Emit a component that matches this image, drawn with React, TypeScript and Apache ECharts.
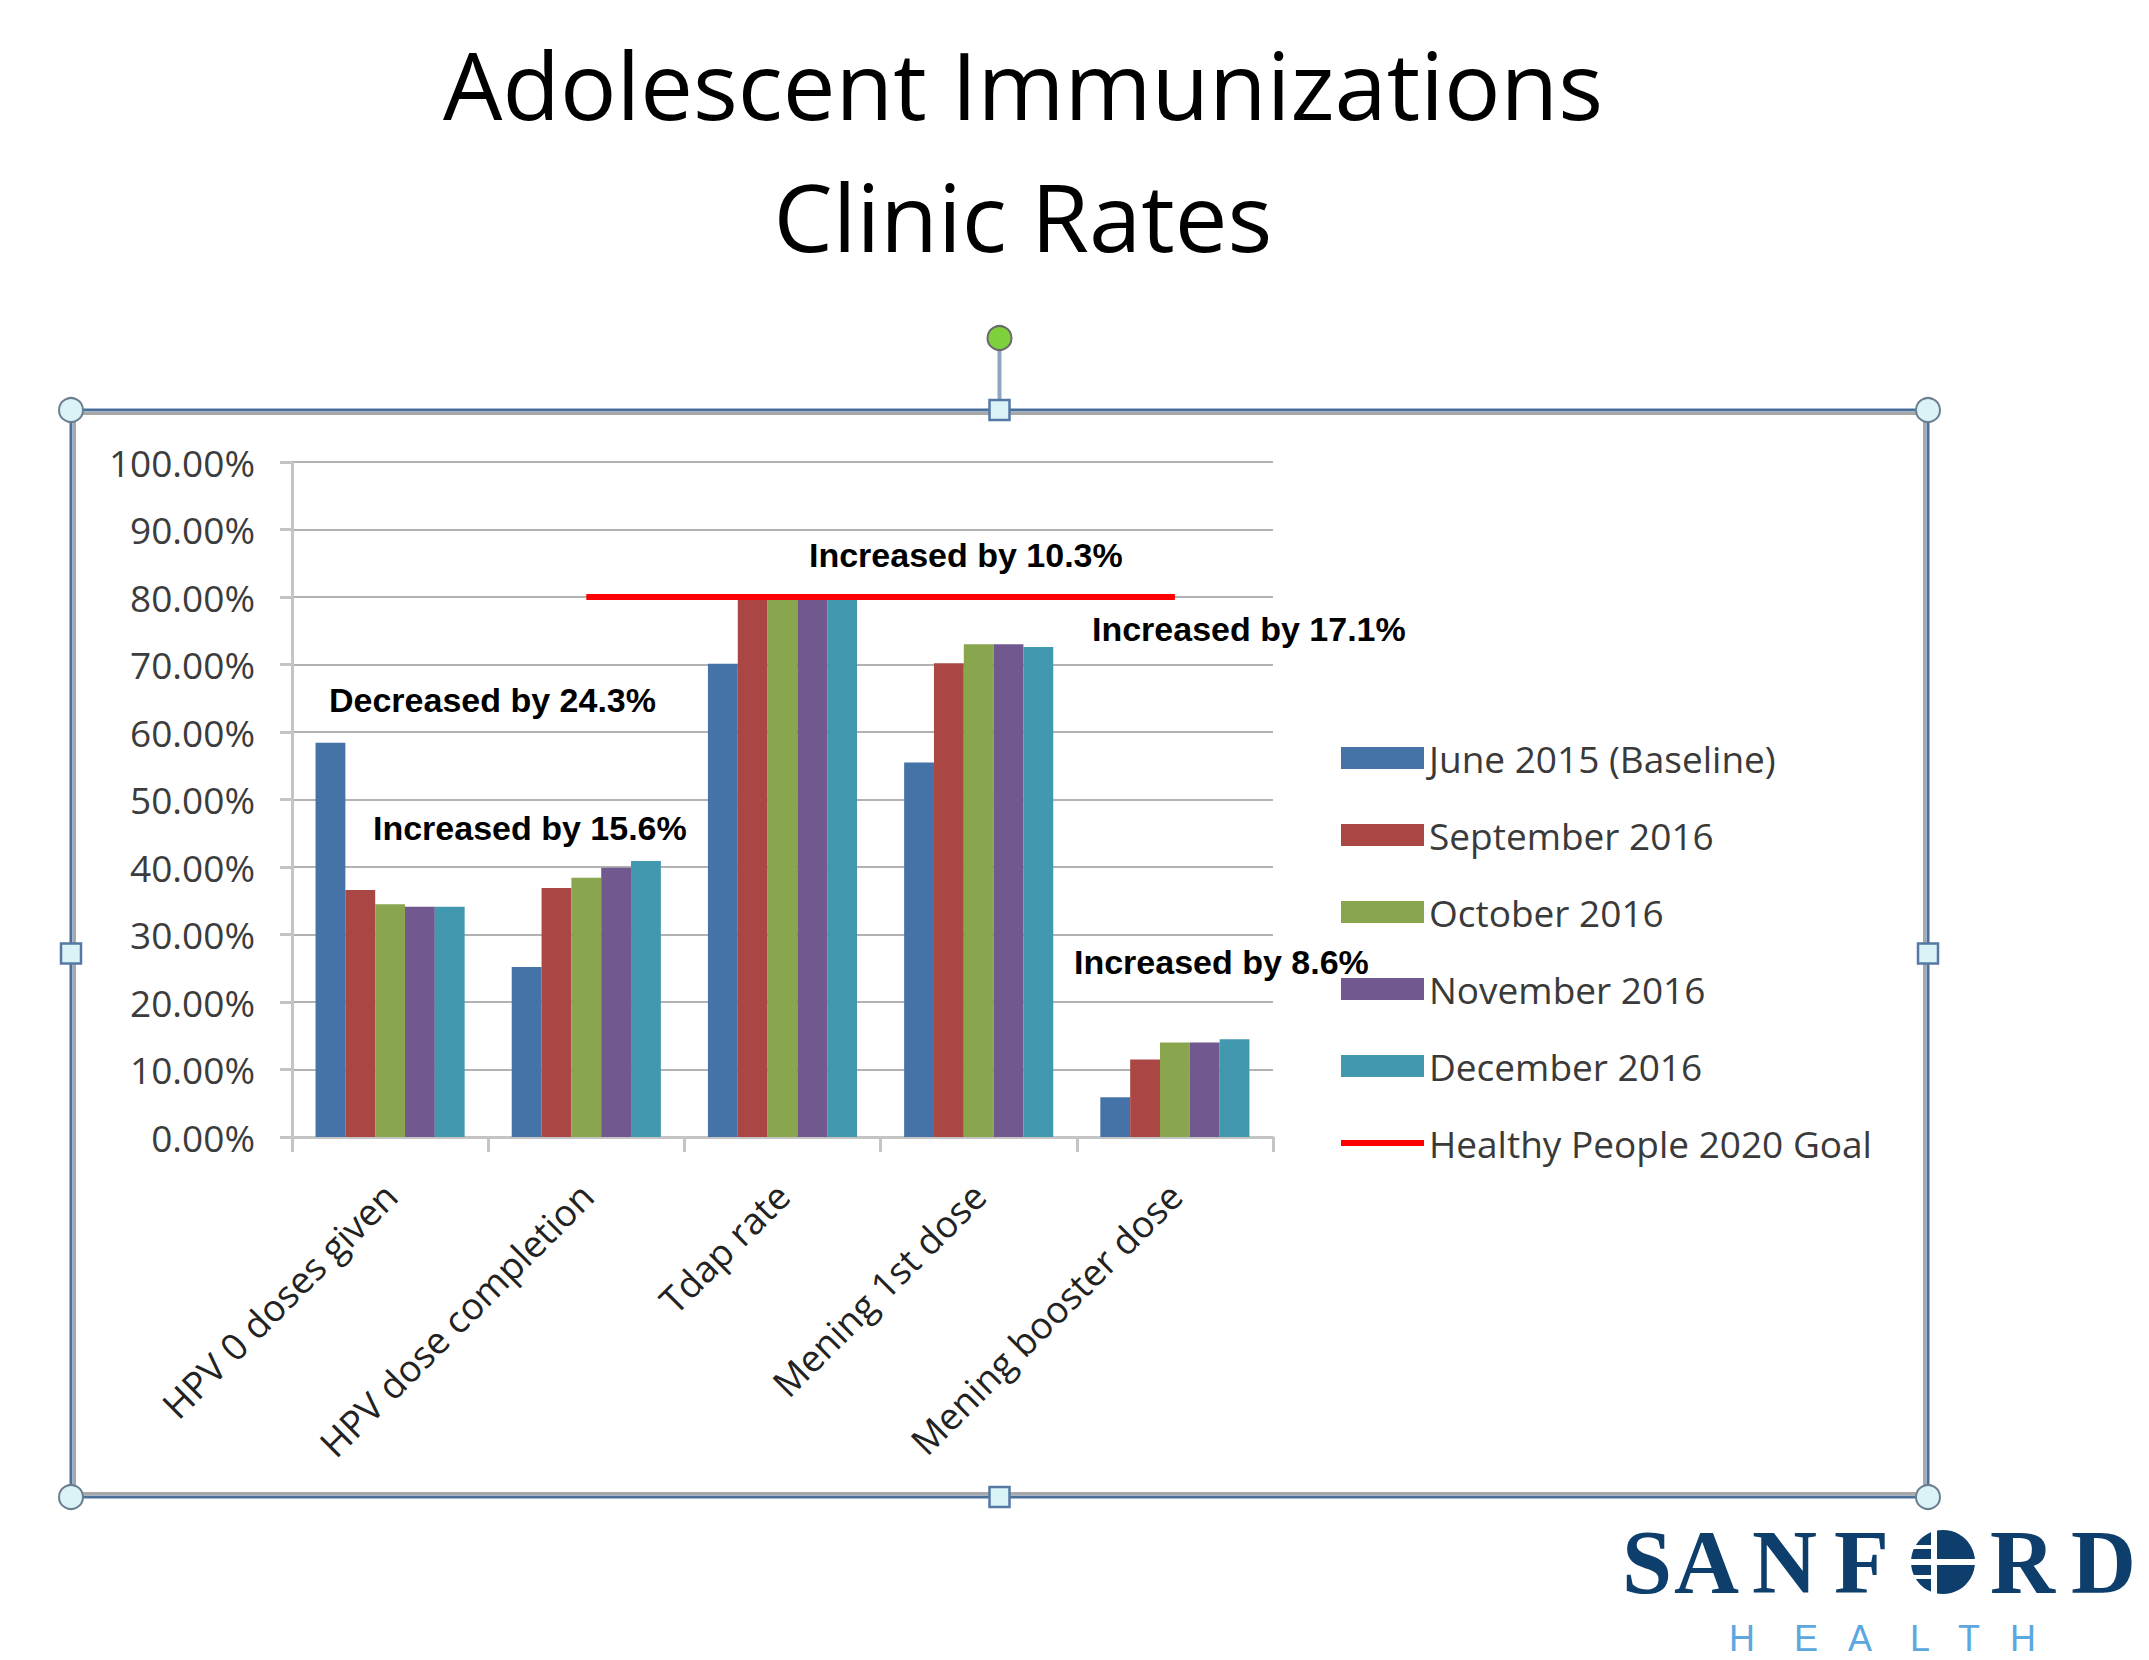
import React, { useEffect, useRef } from "react";
import * as echarts from "echarts";

const categories = [
  "HPV 0 doses given",
  "HPV dose completion",
  "Tdap rate",
  "Mening 1st dose",
  "Mening booster dose",
];
const seriesNames = [
  "June 2015 (Baseline)",
  "September 2016",
  "October 2016",
  "November 2016",
  "December 2016",
];
const june2015 = [58.4, 25.2, 70.1, 55.5, 5.9];
const sep2016 = [36.6, 36.9, 80.0, 70.2, 11.5];
const oct2016 = [34.5, 38.4, 80.2, 73.0, 14.0];
const nov2016 = [34.1, 39.9, 80.3, 73.0, 14.0];
const dec2016 = [34.1, 40.9, 80.4, 72.6, 14.5];
const goalName = "Healthy People 2020 Goal";
const goal = [null, 80, 80, 80, 80];
const annotations = [
  "Decreased by 24.3%",
  "Increased by 15.6%",
  "Increased by 10.3%",
  "Increased by 17.1%",
  "Increased by 8.6%",
];
const titleLines = ["Adolescent Immunizations", "Clinic Rates"];

const colors = ["#4572A7", "#AA4643", "#89A54E", "#71588F", "#4198AF"];
const annotationPos = [
  [329, 700],
  [373, 828],
  [809, 555],
  [1092, 629],
  [1074, 962],
];

export default function App() {
  const ref = useRef<HTMLDivElement>(null);
  useEffect(() => {
    if (!ref.current) return;
    const chart = echarts.init(ref.current, null, { renderer: "svg" });
    const values = [june2015, sep2016, oct2016, nov2016, dec2016];

    const handleCircle = (x: number, y: number) => ({
      type: "circle",
      shape: { cx: x, cy: y, r: 12 },
      style: { fill: "#daf3f7", stroke: "#6c7e8f", lineWidth: 2 },
      z: 20,
    });
    const handleSquare = (x: number, y: number) => ({
      type: "rect",
      shape: { x: x - 10, y: y - 10, width: 20, height: 20 },
      style: { fill: "#daf3f7", stroke: "#5679a3", lineWidth: 2.5 },
      z: 20,
    });

    const L = 71, T = 410, R = 1928, B = 1497;
    const midX = (L + R) / 2;
    const midY = (T + B) / 2;

    const graphic: any[] = [
      ...titleLines.map((t, i) => ({
        type: "text",
        x: 1023,
        y: 84 + i * 132,
        style: {
          text: t,
          fontFamily: "Open Sans",
          fontSize: 94,
          fill: "#000",
          align: "center",
          verticalAlign: "middle",
        },
      })),
      {
        type: "rect",
        shape: { x: L + 3.5, y: T + 3.5, width: R - L - 7, height: B - T - 7 },
        style: { fill: "none", stroke: "#a8a8a8", lineWidth: 3 },
        z: 10,
      },
      {
        type: "rect",
        shape: { x: L, y: T, width: R - L, height: B - T },
        style: { fill: "none", stroke: "#4a6f9a", lineWidth: 3 },
        z: 11,
      },
      {
        type: "line",
        shape: { x1: midX, y1: 348, x2: midX, y2: T - 10 },
        style: { stroke: "#8ea6c2", lineWidth: 4 },
        z: 19,
      },
      {
        type: "circle",
        shape: { cx: midX, cy: 338, r: 12 },
        style: { fill: "#7ed13a", stroke: "#6a6a6a", lineWidth: 2 },
        z: 20,
      },
      handleCircle(L, T),
      handleCircle(R, T),
      handleCircle(L, B),
      handleCircle(R, B),
      handleSquare(midX, T),
      handleSquare(midX, B),
      handleSquare(L, midY),
      handleSquare(R, midY),
      ...annotations.map((t, i) => ({
        type: "text",
        x: annotationPos[i][0],
        y: annotationPos[i][1],
        style: {
          text: t,
          fontFamily: "Liberation Sans",
          fontWeight: "bold",
          fontSize: 34,
          fill: "#000",
          align: "left",
          verticalAlign: "middle",
        },
        z: 30,
      })),
    ];

    const logoLetters: [string, number][] = [
      ["S", 1622],
      ["A", 1674],
      ["N", 1752],
      ["F", 1834],
      ["R", 1990],
      ["D", 2071],
    ];
    logoLetters.forEach(([ch, x]) =>
      graphic.push({
        type: "text",
        x,
        y: 1562,
        style: {
          text: ch,
          fontFamily: "Liberation Serif",
          fontWeight: "bold",
          fontSize: 90,
          fill: "#0e3e6c",
          align: "left",
          verticalAlign: "middle",
        },
      })
    );
    graphic.push({
      type: "group",
      x: 1943,
      y: 1562,
      children: [
        { type: "circle", shape: { cx: 0, cy: 0, r: 32 }, style: { fill: "#0e3e6c" } },
        { type: "rect", shape: { x: -12, y: -34, width: 6, height: 68 }, style: { fill: "#fff" } },
        { type: "rect", shape: { x: -34, y: -3, width: 68, height: 6 }, style: { fill: "#fff" } },
        { type: "rect", shape: { x: -34, y: -17, width: 24, height: 4 }, style: { fill: "#fff" } },
        { type: "rect", shape: { x: -34, y: 13, width: 24, height: 4 }, style: { fill: "#fff" } },
      ],
    });
    const healthLetters: [string, number][] = [
      ["H", 1729],
      ["E", 1794],
      ["A", 1848],
      ["L", 1910],
      ["T", 1958],
      ["H", 2010],
    ];
    healthLetters.forEach(([ch, x]) =>
      graphic.push({
        type: "text",
        x,
        y: 1638,
        style: {
          text: ch,
          fontFamily: "Liberation Sans",
          fontSize: 36,
          fill: "#5ba7de",
          align: "left",
          verticalAlign: "middle",
        },
      })
    );

    const barSeries = seriesNames.map((name, i) => ({
      name,
      type: "bar",
      data: values[i],
      barGap: "0%",
      barCategoryGap: "24%",
      itemStyle: { color: colors[i] },
      emphasis: { disabled: true },
    }));

    chart.setOption({
      animation: false,
      backgroundColor: "#ffffff",
      color: colors,
      grid: { left: 292, right: 876, top: 462, bottom: 523, containLabel: false },
      legend: {
        orient: "vertical",
        left: 1341,
        top: 736,
        padding: 0,
        itemWidth: 83,
        itemHeight: 22,
        itemGap: 33,
        selectedMode: false,
        symbolKeepAspect: true,
        textStyle: {
          fontFamily: "Open Sans",
          fontSize: 37,
          color: "#3a3a3a",
          lineHeight: 44,
        },
        data: [
          ...seriesNames.map((n) => ({ name: n, icon: "rect" })),
          { name: goalName, icon: "path://M0,0H100V7H0Z", itemStyle: { color: "#ff0000" } },
        ],
      },
      xAxis: {
        type: "category",
        data: categories,
        axisLine: { lineStyle: { color: "#c4c4c4", width: 3 } },
        axisTick: { show: true, length: 15, lineStyle: { color: "#c4c4c4", width: 3 } },
        axisLabel: {
          rotate: 45,
          margin: 52,
          fontFamily: "Open Sans",
          fontSize: 37,
          color: "#222",
          interval: 0,
        },
      },
      yAxis: {
        type: "value",
        min: 0,
        max: 100,
        interval: 10,
        axisLine: { show: true, lineStyle: { color: "#c4c4c4", width: 3 } },
        axisTick: { show: true, length: 12, lineStyle: { color: "#c4c4c4", width: 3 } },
        splitLine: { lineStyle: { color: "#b2b2b2", width: 2 } },
        axisLabel: {
          margin: 37,
          fontFamily: "Open Sans",
          fontSize: 37,
          color: "#3c3c3c",
          formatter: (v: number) => v.toFixed(2) + "%",
        },
      },
      series: [
        ...barSeries,
        {
          name: goalName,
          type: "line",
          data: goal,
          symbol: "none",
          showSymbol: false,
          lineStyle: { color: "#ff0000", width: 6 },
          itemStyle: { color: "#ff0000" },
          z: 5,
          emphasis: { disabled: true },
        },
      ],
      graphic,
    });
    return () => chart.dispose();
  }, []);
  return (
    <div
      ref={ref}
      style={{ position: "fixed", left: 0, top: 0, width: 2149, height: 1660 }}
    />
  );
}
